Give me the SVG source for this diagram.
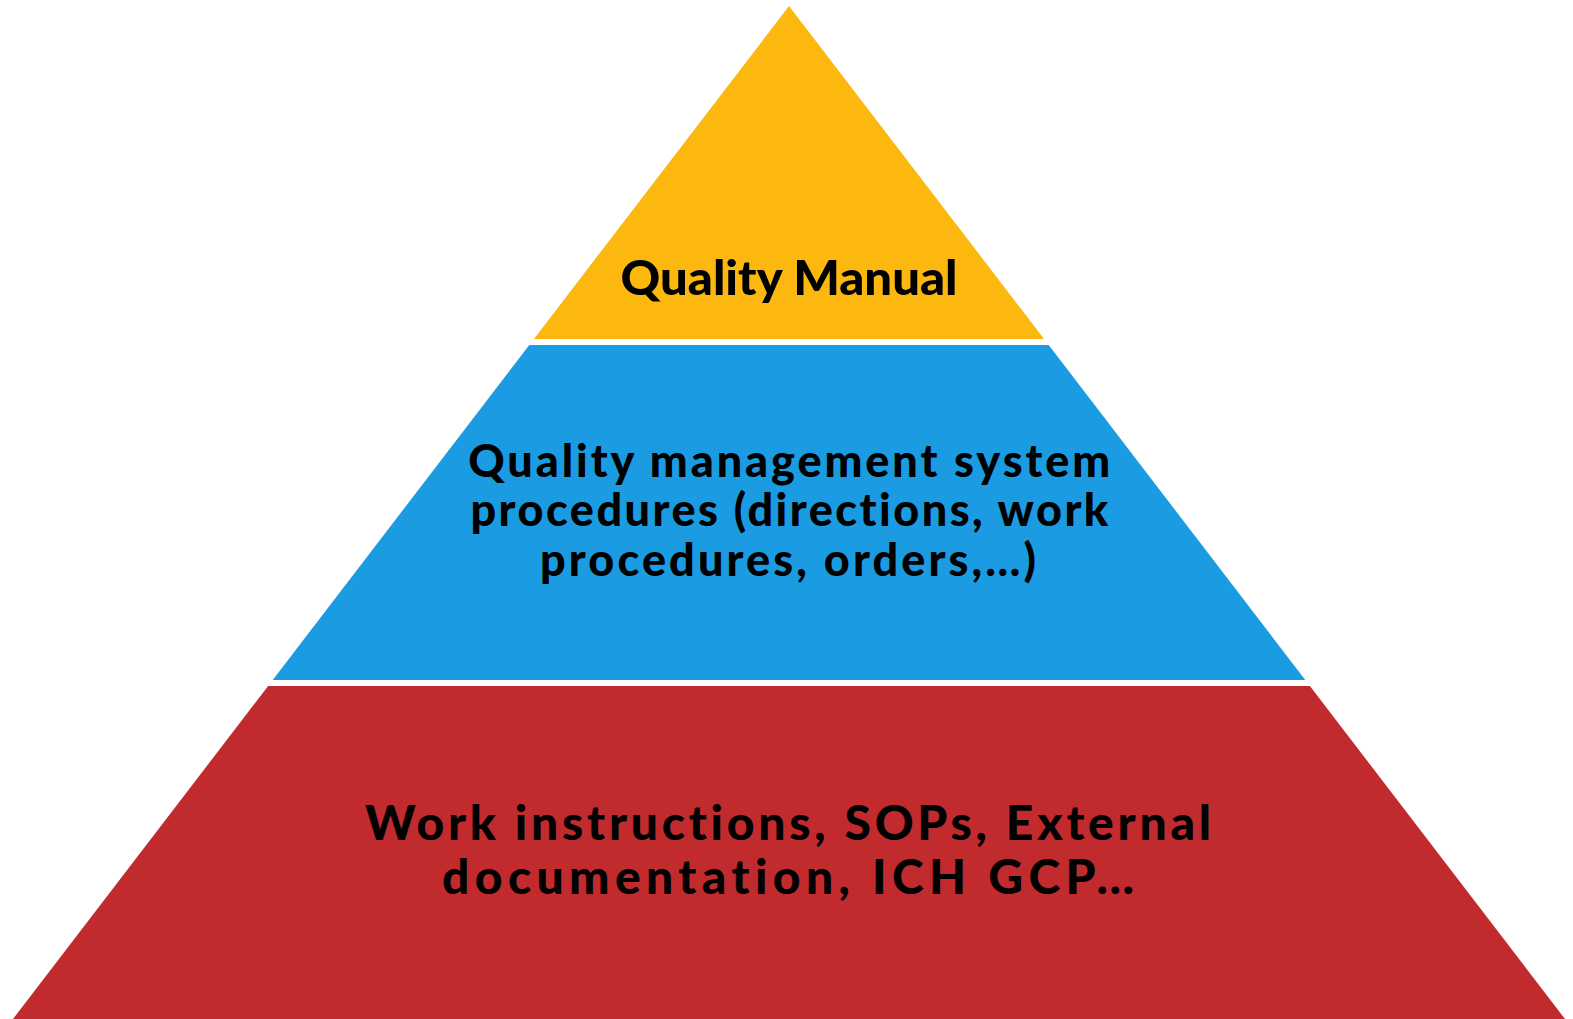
<svg xmlns="http://www.w3.org/2000/svg" width="1573" height="1019" viewBox="0 0 1573 1019">
<style>
.lbl{font-family:"Lato","Open Sans","Liberation Sans",sans-serif;font-weight:900;fill:#000;text-anchor:middle;font-variant-ligatures:none}
</style>
<rect width="1573" height="1019" fill="#ffffff"/>
<g id="tier-top">
<polygon points="789,6 1044.1,339 533.9,339" fill="#FDB810"/>
<text class="lbl" x="789" y="295" font-size="47" textLength="337" lengthAdjust="spacingAndGlyphs">Quality Manual</text>
</g>
<g id="tier-middle">
<polygon points="529.3,345 1048.7,345 1305.3,680 272.7,680" fill="#1B9CE2"/>
<text class="lbl" font-size="45" lengthAdjust="spacingAndGlyphs">
<tspan x="796" y="477" textLength="642">Quality management system</tspan>
<tspan x="796" y="526" textLength="638">procedures (directions, work</tspan>
<tspan x="788" y="576" textLength="496">procedures, orders,…)</tspan>
</text>
</g>
<g id="tier-bottom">
<polygon points="268.1,686 1309.9,686 1565,1019 13,1019" fill="#C12B2E"/>
<text class="lbl" font-size="48" lengthAdjust="spacingAndGlyphs">
<tspan x="795.5" y="840" textLength="846">Work instructions, SOPs, External</tspan>
<tspan x="788" y="894" textLength="692">documentation, ICH GCP…</tspan>
</text>
</g>
</svg>
